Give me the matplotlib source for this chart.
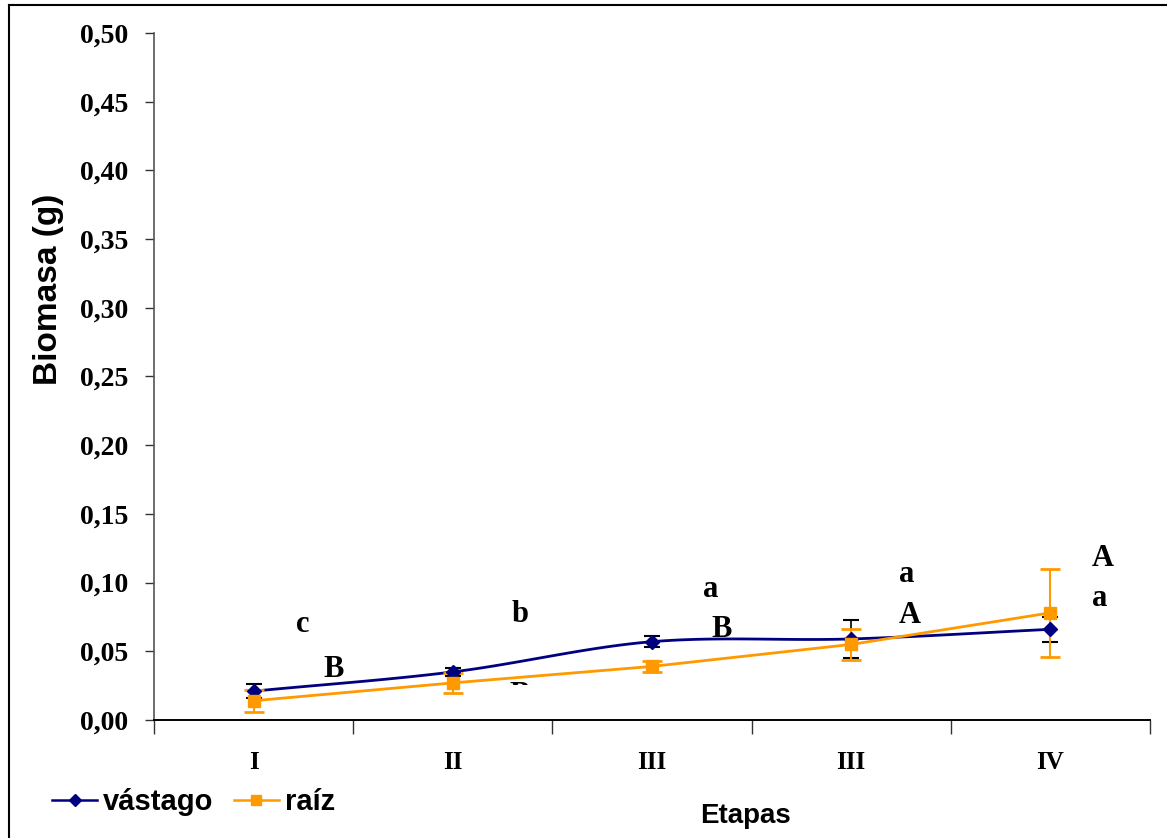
import numpy as np
import matplotlib
matplotlib.use("Agg")
import matplotlib.pyplot as plt
from matplotlib.patches import Rectangle
from matplotlib.lines import Line2D

etapas = ["I", "II", "III", "III", "IV"]
vastago = [0.021, 0.035, 0.057, 0.059, 0.066]
vastago_err = [0.005, 0.003, 0.004, 0.014, 0.009]
raiz = [0.014, 0.027, 0.039, 0.055, 0.078]
raiz_err = [0.008, 0.007, 0.004, 0.011, 0.032]
letras_vastago = ["c", "b", "a", "a", "a"]
letras_raiz = ["B", "B", "B", "A", "A"]

navy = "#000080"
orange = "#FF9900"
serif = "Liberation Serif"
sans = "Liberation Sans"

W, H = 1167, 838
fig = plt.figure(figsize=(W/100, H/100), dpi=100)
ax = fig.add_axes([154/W, 1-720/H, (1150-154)/W, (720-33)/H])

x = np.arange(len(etapas)) + 0.5

def catmull(xs, ys, n=30):
    px = np.concatenate([[2*xs[0]-xs[1]], xs, [2*xs[-1]-xs[-2]]])
    py = np.concatenate([[2*ys[0]-ys[1]], ys, [2*ys[-1]-ys[-2]]])
    ox, oy = [], []
    for i in range(1, len(px)-2):
        t = np.linspace(0, 1, n, endpoint=False)
        for arr, out in ((px, ox), (py, oy)):
            p0, p1, p2, p3 = arr[i-1], arr[i], arr[i+1], arr[i+2]
            out.extend(0.5*((2*p1) + (-p0+p2)*t + (2*p0-5*p1+4*p2-p3)*t**2 + (-p0+3*p1-3*p2+p3)*t**3))
    ox.append(xs[-1]); oy.append(ys[-1])
    return np.array(ox), np.array(oy)

sx, sy = catmull(x, np.array(vastago))
ax.plot(sx, sy, color=navy, lw=2, zorder=3)
ax.errorbar(x, vastago, yerr=vastago_err, fmt="none", ecolor="black", elinewidth=1.2, capsize=6, capthick=1.5, zorder=3)
ax.plot(x, vastago, linestyle="none", marker="D", color=navy, ms=7, zorder=4)

ax.plot(x, raiz, color=orange, lw=2, zorder=3)
ax.errorbar(x, raiz, yerr=raiz_err, fmt="none", ecolor=orange, elinewidth=1.5, capsize=7, capthick=2, zorder=3)
ax.plot(x, raiz, linestyle="none", marker="s", color=orange, ms=9, zorder=4)

# significance letters (baseline positions)
pos_v = [(0.748, 0.064), (1.837, 0.0713), (2.796, 0.0895), (3.78, 0.1004), (4.749, 0.083)]
pos_r = [(0.904, 0.0313), (1.837, 0.0124), (2.851, 0.0604), (3.795, 0.0706), (4.764, 0.1121)]
for (px_, py_), t in zip(pos_v, letras_vastago):
    ax.text(px_, py_, t, fontsize=22, fontweight="bold", family=serif, ha="center", va="baseline", zorder=2)
for (px_, py_), t in zip(pos_r, letras_raiz):
    ax.text(px_, py_, t, fontsize=22, fontweight="bold", family=serif, ha="center", va="baseline", zorder=2)
# the second "B" is mostly hidden in the original
ax.add_patch(Rectangle((1.6, 0.0005), 0.45, 0.0250, facecolor="white", edgecolor="none", zorder=2.5))

ax.set_xlim(0, 5)
ax.set_ylim(0, 0.5)
yt = np.arange(0, 0.501, 0.05)
ax.set_yticks(yt)
ax.set_yticklabels([f"{v:.2f}".replace(".", ",") for v in yt], fontsize=20, fontweight="bold", family=serif)
ax.set_xticks(np.arange(0, 6))
ax.set_xticklabels([])
ax.set_xticks(x, minor=True)
ax.set_xticklabels(etapas, minor=True, fontsize=18, fontweight="bold", family=serif)
ax.tick_params(axis="x", which="major", length=10, width=1, direction="out", color="#333333")
ax.tick_params(axis="x", which="minor", length=0, pad=22)
ax.tick_params(axis="y", length=6.5, width=1, direction="out", pad=12, color="#333333")
for s in ["top", "right"]:
    ax.spines[s].set_visible(False)
ax.spines["left"].set_linewidth(1.2)
ax.spines["left"].set_color("#555555")
ax.spines["bottom"].set_linewidth(1.4)

fig.text(49/W, 1-289/H, "Biomasa (g)", fontsize=24, fontweight="bold", family=sans,
         rotation=90, ha="center", va="center")
fig.text(745/W, 1-823/H, "Etapas", fontsize=20, fontweight="bold", family=sans, ha="center", va="baseline")

h1 = Line2D([], [], color=navy, marker="D", ms=6, lw=1.8)
h2 = Line2D([], [], color=orange, marker="s", ms=7, lw=1.8)
fig.legend([h1, h2], ["vástago", "raíz"], loc="center left", bbox_to_anchor=(52/W, 1-802/H),
           ncol=2, frameon=False, prop={"family": sans, "weight": "bold", "size": 21},
           handlelength=1.55, handletextpad=0.2, columnspacing=0.7, borderpad=0, borderaxespad=0)

# outer border (top and left)
fig.add_artist(Line2D([9/W, 1166/W], [1-5/H, 1-5/H], color="black", lw=1.5, transform=fig.transFigure))
fig.add_artist(Line2D([9/W, 9/W], [1-5/H, 0], color="black", lw=1.5, transform=fig.transFigure))

fig.savefig("out.png", dpi=100)
